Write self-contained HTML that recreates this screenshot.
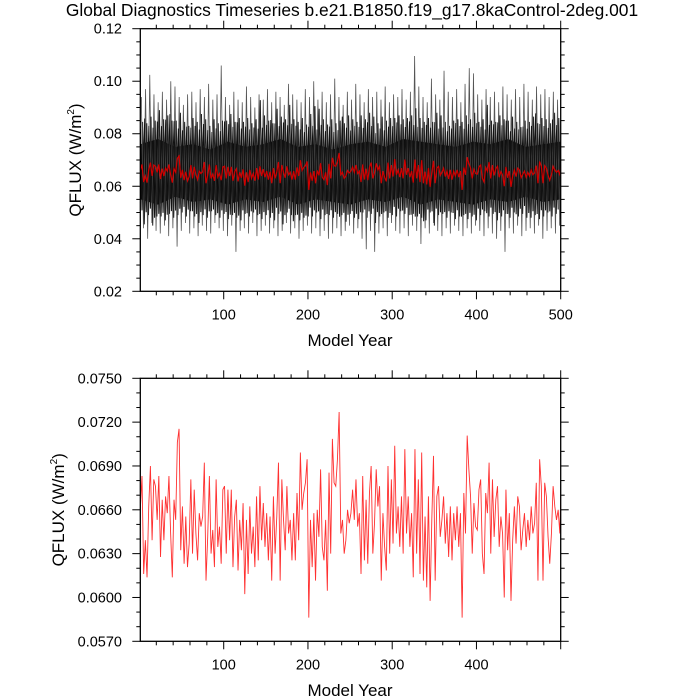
<!DOCTYPE html>
<html><head><meta charset="utf-8"><style>
html,body{margin:0;padding:0;background:#fff;}
svg{display:block;font-family:"Liberation Sans",Arial,sans-serif;}
</style></head><body>
<svg id="chart" width="700" height="700" viewBox="0 0 700 700">
<text x="352" y="16" text-anchor="middle" font-size="17.4">Global Diagnostics Timeseries b.e21.B1850.f19_g17.8kaControl-2deg.001</text>
<g id="top"></g>
<g id="bot"></g>
</svg>
<script>
// Annual mean QFLUX (W/m2), every 2 model years starting at year 1
const annualVals = [0.06600,0.06831,0.06161,0.06392,0.06138,0.06623,0.06900,0.06392,0.06808,0.06762,0.06531,0.06831,0.06277,0.06669,0.06392,0.06692,0.06577,0.06831,0.06438,0.06138,0.06669,0.06531,0.07062,0.07154,0.06323,0.06623,0.06231,0.06554,0.06208,0.06369,0.06808,0.06300,0.06738,0.06438,0.06254,0.06577,0.06485,0.06554,0.06923,0.06115,0.06415,0.06831,0.06300,0.06462,0.06208,0.06808,0.06346,0.06485,0.06231,0.06738,0.06762,0.06300,0.06738,0.06392,0.06738,0.06208,0.06554,0.06669,0.06185,0.06531,0.06323,0.06646,0.06023,0.06531,0.06161,0.06623,0.06300,0.06485,0.06208,0.06692,0.06254,0.06762,0.06392,0.06646,0.06346,0.06577,0.06254,0.06554,0.06115,0.06692,0.06300,0.06554,0.06923,0.06115,0.06808,0.06531,0.06323,0.06762,0.06438,0.06531,0.06254,0.06577,0.06254,0.06715,0.06392,0.06992,0.06600,0.06715,0.06785,0.06946,0.05862,0.06531,0.06208,0.06577,0.06115,0.06600,0.06415,0.06877,0.06346,0.06254,0.06531,0.06046,0.06854,0.06300,0.07085,0.06785,0.06762,0.06946,0.07269,0.06438,0.06531,0.06300,0.06392,0.06600,0.06508,0.06577,
0.06738,0.06531,0.06808,0.06485,0.06577,0.06161,0.06831,0.06254,0.06669,0.06231,0.06715,0.06900,0.06300,0.06508,0.06877,0.06623,0.06762,0.06115,0.06577,0.06346,0.06185,0.06900,0.06300,0.06808,0.06369,0.07038,0.06438,0.06623,0.06346,0.06692,0.06300,0.07015,0.06438,0.06692,0.06346,0.06577,0.06138,0.07015,0.06300,0.06808,0.06161,0.06992,0.06115,0.06554,0.06069,0.06692,0.05977,0.06531,0.06969,0.06115,0.06692,0.06762,0.06415,0.06531,0.06692,0.06369,0.06577,0.06277,0.06623,0.06254,0.06577,0.06392,0.06623,0.06346,0.06577,0.05862,0.06715,0.06438,0.07108,0.06877,0.06692,0.06300,0.06646,0.06485,0.06462,0.06738,0.06808,0.06300,0.06161,0.06715,0.06577,0.06923,0.06300,0.06808,0.06415,0.06669,0.06762,0.06346,0.06554,0.06438,0.06000,0.06738,0.06323,0.06577,0.05977,0.06392,0.06623,0.06369,0.06692,0.06623,0.06323,0.06462,0.06577,0.06346,0.06531,0.06392,0.06623,0.06438,0.06508,0.06785,0.06115,0.06946,0.06762,0.06115,0.06785,0.06692,0.06415,0.06231,0.06438,0.06762,0.06623,0.06531,0.06600,0.06438,0.06923];
// Monthly max / min per 5-year bin
const monthlyHi = [0.094,0.097,0.1024,0.095,0.092,0.096,0.093,0.100,0.098,0.094,0.091,0.095,0.096,0.092,0.097,0.094,0.099,0.093,0.095,0.106,0.094,0.091,0.096,0.093,0.092,0.098,0.094,0.090,0.095,0.093,0.097,0.092,0.096,0.094,0.091,0.099,0.095,0.093,0.092,0.097,0.094,0.100,0.093,0.096,0.092,0.095,0.101,0.094,0.091,0.096,0.093,0.099,0.095,0.092,0.097,0.094,0.096,0.093,0.098,0.092,0.095,0.094,0.097,0.093,0.096,0.1096,0.098,0.094,0.092,0.101,0.095,0.093,0.104,0.096,0.094,0.097,0.092,0.099,0.105,0.103,0.095,0.093,0.097,0.094,0.096,0.092,0.098,0.095,0.093,0.097,0.094,0.099,0.096,0.093,0.098,0.095,0.097,0.094,0.096,0.093];
const monthlyLo = [0.044,0.040,0.046,0.043,0.042,0.045,0.041,0.044,0.037,0.043,0.046,0.042,0.044,0.041,0.045,0.043,0.042,0.046,0.044,0.043,0.041,0.045,0.035,0.043,0.044,0.042,0.046,0.041,0.043,0.045,0.042,0.044,0.041,0.043,0.046,0.042,0.044,0.040,0.043,0.045,0.042,0.044,0.041,0.043,0.040,0.042,0.044,0.041,0.043,0.045,0.042,0.044,0.040,0.036,0.043,0.035,0.042,0.044,0.041,0.046,0.043,0.042,0.044,0.041,0.045,0.043,0.038,0.044,0.042,0.046,0.043,0.041,0.044,0.042,0.045,0.043,0.041,0.044,0.042,0.045,0.043,0.041,0.044,0.042,0.040,0.043,0.035,0.044,0.042,0.045,0.041,0.043,0.044,0.042,0.045,0.040,0.043,0.044,0.042,0.045];
// Dense core of monthly values per 20-year bin
const coreHi = [0.076,0.078,0.075,0.076,0.074,0.077,0.075,0.076,0.078,0.075,0.076,0.074,0.076,0.077,0.075,0.078,0.077,0.076,0.075,0.077,0.076,0.078,0.075,0.076,0.077];
const coreLo = [0.055,0.053,0.056,0.054,0.055,0.053,0.055,0.054,0.056,0.053,0.055,0.054,0.053,0.055,0.054,0.056,0.053,0.055,0.054,0.053,0.055,0.054,0.056,0.054,0.055];
const topYTicks = ["0.02","0.04","0.06","0.08","0.10","0.12"];
const botYTicks = ["0.0570","0.0600","0.0630","0.0660","0.0690","0.0720","0.0750"];
const topXTicks = [100,200,300,400,500];
const botXTicks = [100,200,300,400];

const NS="http://www.w3.org/2000/svg";
function mk(parent,tag,attrs){const e=document.createElementNS(NS,tag);for(const k in attrs)e.setAttribute(k,attrs[k]);parent.appendChild(e);return e;}
const L=140.3,R=560.7,XMIN=1,XMAX=500;
const sx=v=>L+(v-XMIN)/(XMAX-XMIN)*(R-L);

function panel(g,top,bot,ymin,ymax,yTicks,yMinor,xTicks,xlabY,ylabX,idn){
  const sy=v=>bot-(v-ymin)/(ymax-ymin)*(bot-top);
  const cp=mk(g,'clipPath',{id:'clip'+idn});
  mk(cp,'rect',{x:L,y:top,width:R-L,height:bot-top});
  const plot=mk(g,'g',{'clip-path':'url(#clip'+idn+')'});
  
  
  const fr=mk(g,'rect',{x:L,y:top,width:R-L,height:bot-top,fill:'none',stroke:'#000','stroke-width':1.3});
  
  
  const yl=yTicks.map(Number);
  for(let v=ymin;v<=ymax+1e-9;v+=yMinor){
    const isMaj=yl.some(t=>Math.abs(t-v)<1e-9);
    const len=isMaj?8:4,y=sy(v);
    mk(g,'line',{x1:L-len,x2:L,y1:y,y2:y,stroke:'#000','stroke-width':1});
    mk(g,'line',{x1:R,x2:R+len,y1:y,y2:y,stroke:'#000','stroke-width':1});
  }
  yTicks.forEach(t=>{
    const tx=mk(g,'text',{x:122,y:sy(+t)+5,'text-anchor':'end','font-size':14.5});
    tx.textContent=t;
    
    
  });
  for(let v=20;v<=XMAX;v+=20){
    const isMaj=v%100===0,len=isMaj?8:4,x=sx(v);
    mk(g,'line',{x1:x,x2:x,y1:bot,y2:bot+len,stroke:'#000','stroke-width':1});
    mk(g,'line',{x1:x,x2:x,y1:top-len,y2:top,stroke:'#000','stroke-width':1});
  }
  xTicks.forEach(t=>{
    const tx=mk(g,'text',{x:sx(t),y:bot+28,'text-anchor':'middle','font-size':14.5});
    tx.textContent=t;
    
    
  });
  const xt=mk(g,'text',{x:350,y:xlabY,'text-anchor':'middle','font-size':17});
  xt.textContent='Model Year';
  
  
  const cy=(top+bot)/2;
  const ytt=mk(g,'text',{x:ylabX,y:cy,'text-anchor':'middle','font-size':17,transform:'rotate(-90 '+ylabX+' '+cy+')'});
  ytt.innerHTML='QFLUX (W/m<tspan font-size="10" dy="-7">2</tspan><tspan dy="7">)</tspan>';
  
  
  return {plot,sy};
}

const T=panel(document.getElementById('top'),28.7,291.3,0.02,0.12,topYTicks,0.005,topXTicks,346,81,'t');
{
  const n=coreHi.length,step=(XMAX-XMIN)/(n-1);
  let pts=coreHi.map((v,i)=>sx(XMIN+i*step)+','+T.sy(v));
  pts=pts.concat(coreLo.map((v,i)=>sx(XMIN+i*step)+','+T.sy(v)).reverse());
  const core=mk(T.plot,'polygon',{points:pts.join(' '),fill:'#000'});
  
  
  const m=monthlyHi.length,bw=(XMAX-XMIN)/m;
  let z=[];
  for(let i=0;i<m;i++){
    z.push(sx(XMIN+i*bw+bw*0.25)+','+T.sy(monthlyHi[i]));
    z.push(sx(XMIN+i*bw+bw*0.75)+','+T.sy(monthlyLo[i]));
  }
  const sp=mk(T.plot,'polyline',{points:z.join(' '),fill:'none',stroke:'#555','stroke-width':0.8});
  
  
  let z2=[];
  for(let i=0;i<m;i++){
    const c=Math.floor(i/4);
    z2.push(sx(XMIN+i*bw+bw*0.55)+','+T.sy((monthlyHi[(i+37)%m]+coreHi[c])/2));
    z2.push(sx(XMIN+i*bw+bw*0.95)+','+T.sy((monthlyLo[(i+53)%m]+coreLo[c])/2));
  }
  const sp2=mk(T.plot,'polyline',{points:z2.join(' '),fill:'none',stroke:'#222','stroke-width':1});
  
  
  let z3=[];
  for(let i=0;i<m;i++){
    const c=Math.floor(i/4);
    z3.push(sx(XMIN+i*bw+bw*0.05)+','+T.sy((monthlyHi[(i+71)%m]*0.35+coreHi[c]*0.65)));
    z3.push(sx(XMIN+i*bw+bw*0.4)+','+T.sy((monthlyLo[(i+19)%m]*0.35+coreLo[c]*0.65)));
  }
  const sp3=mk(T.plot,'polyline',{points:z3.join(' '),fill:'none',stroke:'#111','stroke-width':1});
  
  
  const ap=annualVals.map((v,i)=>sx(1+2*i)+','+T.sy(v)).join(' ');
  const al=mk(T.plot,'polyline',{points:ap,fill:'none',stroke:'#d00000','stroke-width':1.2});
  
  
}
const B=panel(document.getElementById('bot'),378.3,641.3,0.057,0.075,botYTicks,0.001,botXTicks,696,64,'b');
{
  const ap=annualVals.map((v,i)=>sx(1+2*i)+','+B.sy(v)).join(' ');
  const al=mk(B.plot,'polyline',{points:ap,fill:'none',stroke:'#ff3030','stroke-width':0.9});
  
  
}
</script>
</body></html>
